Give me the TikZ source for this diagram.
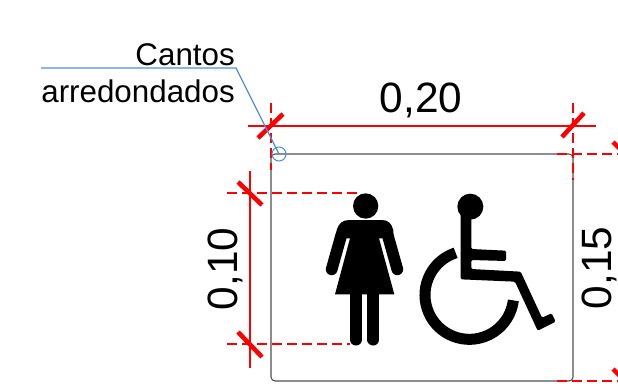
\documentclass[tikz,border=0pt]{standalone}
\usepackage{fontspec}
\setmainfont{Liberation Sans}
\definecolor{leaderblue}{HTML}{4A90E2}
\definecolor{platecolor}{HTML}{505050}
\tikzset{
  dimline/.style={red,line width=1.2pt},
  dimdash/.style={red,line width=1.3pt,dash pattern=on 7.5pt off 3.75pt},
  dimtick/.style={red,line width=3.4pt},
  leader/.style={leaderblue,line width=0.85pt},
  limb/.style={line width=8.8pt,line cap=round},
  dimtext/.style={font=\fontsize{31.8}{36}\selectfont,inner sep=0pt},
  notetext/.style={font=\fontsize{23.5}{28}\selectfont,inner sep=0pt,anchor=base east},
}
\begin{document}
\begin{tikzpicture}[x=0.75pt,y=-0.75pt]

\clip (0,0) rectangle (618,390);

\coordinate (tl) at (271,154);
\coordinate (tr) at (573,154);
\coordinate (bl) at (271,381);
\coordinate (br) at (573,381);

% plate
\draw[platecolor,line width=0.8pt,rounded corners=3pt] (tl) -- (tr) -- (br) -- (bl) -- cycle;

% woman
\begin{scope}[shift={(310,180)},scale=1/3]
\fill (167,78) circle (38);
\draw[limb] (138,340) -- (138,479);
\draw[limb] (190,340) -- (190,479);
\draw[limb] (94,165) -- (65,268);
\draw[limb] (233,165) -- (262,268);
\fill (75,343) -- (120,175) -- (108,175) -- (78,165)
  -- (80,150) .. controls (86,130) and (98,120) .. (118,120)
  -- (215,120) .. controls (235,120) and (244,130) .. (250,150)
  -- (250,165) -- (218,175) -- (207,175) -- (253,343) -- cycle;
\end{scope}

% wheelchair
\begin{scope}[shift={(410,180)},scale=1/3]
\fill (181,80) circle (39);
\fill[rounded corners=1pt] (152,90) -- (152,298) -- (315,305) -- (383,452) -- (437,425)
  -- (425,400) -- (396,413) -- (332,275) -- (184,267) -- (184,240) -- (288,243)
  -- (288,212) -- (184,207) -- (184,90) -- cycle;
\draw[line width=8.25pt] (178,345) ++(252:133) arc[start angle=252,end angle=7,radius=133];
\end{scope}

% width
\coordinate (wl) at (248,126);
\coordinate (wr) at (596,126);
\draw[dimline] (wl) -- (wr);
\draw[dimdash] (271,103) -- (271,170);
\draw[dimdash] (573,103) -- (573,180);
\draw[dimtick] (258,138) -- (283,114);
\draw[dimtick] (562,137) -- (584,113);
\node[dimtext,anchor=base] (w20) at (421,112) {0,20};

% left height
\coordinate (hb) at (250,171);
\coordinate (he) at (250,368);
\draw[dimline] (hb) -- (he);
\draw[dimdash] (227,193) -- (360,193);
\draw[dimdash] (227,344) -- (350,344);
\draw[dimtick] (238,182) -- (262,205);
\draw[dimtick] (238,332) -- (262,357);
\node[dimtext,rotate=90,anchor=base] (h10) at (237,269) {0,10};

% right height
\draw[dimdash] (557,154) -- (625,154);
\draw[dimdash] (557,381) -- (625,381);
\draw[dimtick] (613,142) -- (637,166);
\draw[dimtick] (613,369) -- (637,393);
\node[dimtext,rotate=90,anchor=base] (h15) at (611,268) {0,15};

% note
\node[notetext] (cantos) at (235,65) {Cantos};
\node[notetext] (arred) at (235,102) {arredondados};
\coordinate (ls) at (41,68);
\coordinate (lk) at (236,68);
\node[draw=leaderblue,circle,line width=0.75pt,minimum size=10.5pt,inner sep=0pt] (corner) at (279,154) {};
\draw[leader] (ls) -- (lk) -- (corner.center);

\end{tikzpicture}
\end{document}
